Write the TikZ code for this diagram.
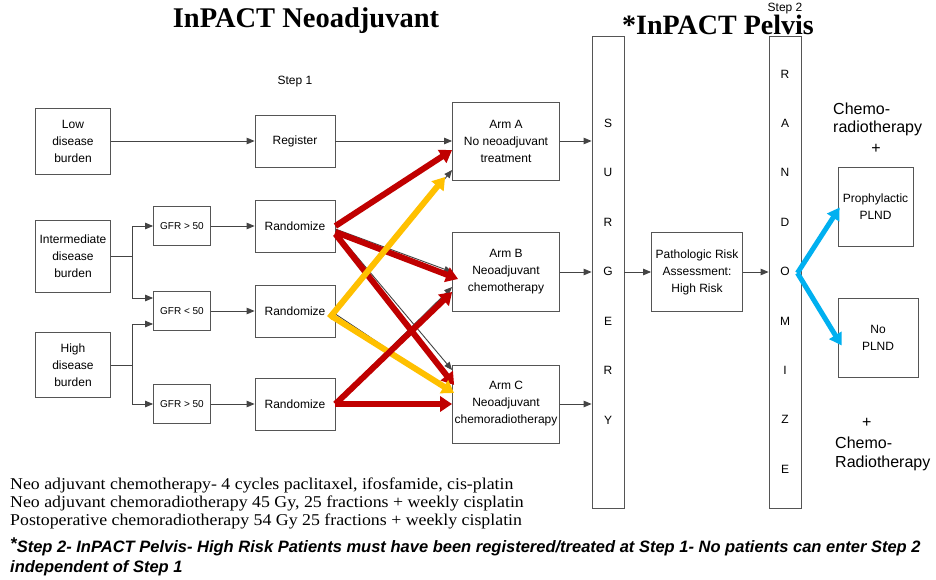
\documentclass[tikz,border=0pt]{standalone}
\usepackage{fontspec}
\setmainfont{Liberation Serif}
\setsansfont{Liberation Sans}
\newfontfamily\notefont[FakeStretch=1.08]{Liberation Serif}
\usetikzlibrary{arrows.meta,calc}
\definecolor{boxgray}{HTML}{555555}
\definecolor{linegray}{HTML}{444444}
\definecolor{arred}{HTML}{C00000}
\definecolor{aryellow}{HTML}{FFC000}
\definecolor{arblue}{HTML}{00B0F0}
\begin{document}
\begin{tikzpicture}[x=1pt,y=-1pt,
  box/.style={draw=boxgray, line width=0.8pt, fill=white, font=\sffamily\fontsize{12}{17}\selectfont, align=center, inner sep=0pt},
  gfr/.style={box, font=\sffamily\fontsize{10}{12}\selectfont, minimum width=57pt, minimum height=39pt},
  rnd/.style={box, minimum width=80pt, minimum height=52pt},
  arm/.style={box, minimum width=107pt, minimum height=78pt},
  burden/.style={box, text width=75pt, minimum height=66pt},
  tall/.style={draw=boxgray, line width=0.8pt, fill=white, minimum width=32pt, minimum height=472pt, inner sep=0pt},
  letter/.style={font=\sffamily\fontsize{12}{14}\selectfont, inner sep=0pt},
  thin/.style={draw=linegray, line width=0.9pt, -{Triangle[length=8pt,width=6.5pt]}},
  thick/.style={line width=6pt, -{Triangle[length=12pt,width=15pt]}},
  redarr/.style={thick, draw=arred, fill=arred},
  yelarr/.style={thick, draw=aryellow, fill=aryellow},
  bluarr/.style={line width=5pt, draw=arblue, -{Triangle[length=12pt,width=14pt]}},
  sidetext/.style={font=\sffamily\fontsize{16}{18}\selectfont, inner sep=0pt},
  note/.style={font=\notefont\fontsize{16.5}{18}\selectfont, inner sep=0pt, anchor=base west}
]
\useasboundingbox (0,0) rectangle (936,580);
\fill[white] (0,0) rectangle (936,580);

% titles
\node[font=\bfseries\fontsize{28.5}{30}\selectfont, inner sep=0pt] (t1) at (306,21) {InPACT Neoadjuvant};
\node[font=\bfseries\fontsize{28}{30}\selectfont, inner sep=0pt] (t2) at (718,25) {*InPACT Pelvis};
\node[font=\sffamily\fontsize{12}{14}\selectfont, inner sep=0pt] (s1) at (295,82) {Step 1};
\node[font=\sffamily\fontsize{12}{14}\selectfont, inner sep=0pt] (s2) at (785,9) {Step 2};

% left column
\node[burden] (low) at (73,141) {Low\\disease\\burden};
\node[burden, minimum height=72pt] (inter) at (73,256) {Intermediate\\disease\\burden};
\node[burden, minimum height=65pt] (high) at (73,365) {High\\disease\\burden};

\node[gfr] (g1) at (182,226) {GFR > 50};
\node[gfr] (g2) at (182,311) {GFR < 50};
\node[gfr] (g3) at (182,404) {GFR > 50};

\node[rnd] (reg) at (295,141) {Register};
\node[rnd] (r1) at (295,226) {Randomize};
\node[rnd] (r2) at (295,311) {Randomize};
\node[rnd] (r3) at (295,404) {Randomize};

\node[arm] (armA) at (506,141) {Arm A\\No neoadjuvant\\treatment};
\node[arm, minimum height=79pt] (armB) at (506,272) {Arm B\\Neoadjuvant\\chemotherapy};
\node[arm] (armC) at (506,404) {Arm C\\Neoadjuvant\\chemoradiotherapy};

\node[tall] (surg) at (608,272) {};
\foreach \l [count=\i] in {S,U,R,G,E,R,Y}
  \node[letter] (su\i) at (608,{123+49.5*(\i-1)}) {\l};

\node[box, minimum width=91pt, minimum height=79pt] (path) at (697,272) {Pathologic Risk\\Assessment:\\High Risk};

\node[tall] (rand) at (785,272) {};
\foreach \l [count=\i] in {R,A,N,D,O,M,I,Z,E}
  \node[letter] (ra\i) at (785,{74+49.4*(\i-1)}) {\l};

\node[box, minimum width=75pt, minimum height=79pt] (pro) at (875.5,206.5) {Prophylactic\\PLND};
\node[box, minimum width=80pt, minimum height=79pt] (nop) at (878,337.5) {No\\PLND};

\node[sidetext, anchor=base west] (c1a) at (833,115) {Chemo-};
\node[sidetext, anchor=base west] (c1b) at (833,133) {radiotherapy};
\node[sidetext] (c1c) at (876,149) {+};
\node[sidetext, anchor=west] (p2) at (862,423) {+};
\node[sidetext, anchor=west] (c2) at (835,443) {Chemo-};
\node[sidetext, anchor=west] (c3) at (835,463) {Radiotherapy};

% thin connectors
\draw[thin] (low) -- (reg);
\draw[thin] (reg) -- (armA);
\coordinate (ei) at (132,256);
\coordinate (eh) at (132,365);
\draw[thin] (inter.east) -- (ei) |- (g1.west);
\draw[thin] (ei) |- ($(g2.west)+(0,-13)$);
\draw[thin] (high.east) -- (eh) |- ($(g2.west)+(0,13)$);
\draw[thin] (eh) |- (g3.west);
\draw[thin] (g1) -- (r1);
\draw[thin] (g2) -- (r2);
\draw[thin] (g3) -- (r3);
\draw[thin] (armA.east) -- (armA.east -| surg.west);
\draw[thin] (armB.east) -- (armB.east -| surg.west);
\draw[thin] (armC.east) -- (armC.east -| surg.west);
\draw[thin] (surg.east |- path.west) -- (path.west);
\draw[thin] (path.east) -- (path.east -| rand.west);

% thin arrows under the coloured ones
\draw[thin] (r2.east) -- ($(armA.west)+(0,29)$);
\draw[thin] ($(r1.east)+(0,3)$) -- (armB.west);
\draw[thin] ($(r1.east)+(0,5)$) -- ($(armC.west)+(0,-34)$);
\draw[thin] ($(r3.east)+(0,-2)$) -- ($(armB.west)+(0,15)$);
\draw[thin] ($(r2.east)+(0,3)$) -- ($(armC.west)+(0,-12)$);

% thick coloured arrows
\draw[redarr] (r1.east) -- ($(armA.west)+(0,9)$);
\draw[redarr] ($(r1.east)+(0,6)$) -- ($(armB.west)+(6,7)$);
\draw[redarr] ($(r1.east)+(0,8)$) -- ($(armC.west)+(2,-19)$);
\draw[yelarr] ($(r2.east)+(-6,7)$) -- ($(armA.west)+(-7,36)$);
\draw[yelarr] ($(r2.east)+(-4,5)$) -- ($(armC.west)+(2,-11)$);
\draw[redarr] (r3.east) -- ($(armB.west)+(0,20)$);
\draw[redarr] (r3.east) -- (armC.west);

\coordinate (bo) at ($(rand.east)+(-4,1)$);
\draw[bluarr] (bo) -- ($(pro.west)+(2,1)$);
\draw[bluarr] (bo) -- ($(nop.west)+(4,8)$);

% notes
\node[note] (n1) at (10,489) {Neo adjuvant chemotherapy- 4 cycles paclitaxel, ifosfamide, cis-platin};
\node[note] (n2) at (10,507) {Neo adjuvant chemoradiotherapy 45 Gy, 25 fractions + weekly cisplatin};
\node[note] (n3) at (10,525) {Postoperative chemoradiotherapy 54 Gy 25 fractions + weekly cisplatin};
\node[anchor=base west, inner sep=0pt, font=\sffamily\bfseries\itshape\fontsize{16.5}{20}\selectfont] (n4) at (10,552)
  {\raisebox{3pt}{\fontsize{17}{17}\selectfont *}Step 2- InPACT Pelvis- High Risk Patients must have been registered/treated at Step 1- No patients can enter Step 2};
\node[anchor=base west, inner sep=0pt, font=\sffamily\bfseries\itshape\fontsize{16.5}{20}\selectfont] (n5) at (10,572)
  {independent of Step 1};
\end{tikzpicture}
\end{document}
